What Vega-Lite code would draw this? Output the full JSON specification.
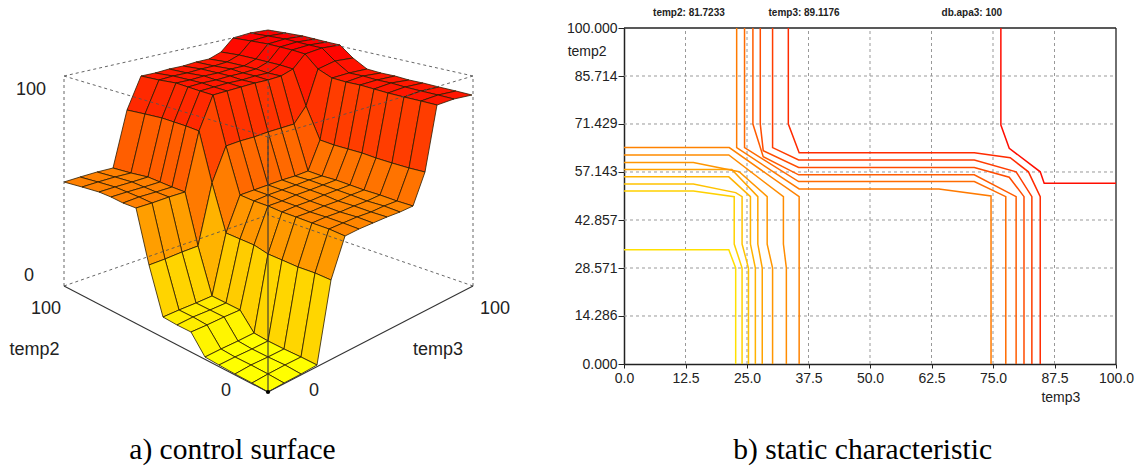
{"$schema":"https://vega.github.io/schema/vega-lite/v6.json","width":1140,"height":466,"autosize":{"type":"fit","contains":"padding"},"padding":0,"background":"white","config":{"view":{"stroke":null}},
"datasets":{"cells":[
{"c":1,"z":100,"x":[268,286,268,250],"y":[36,33,30,33]},{"c":2,"z":100,"x":[251,268,250,233],"y":[41,36,33,38]},{"c":3,"z":96,"x":[239,251,233,221],"y":[55,41,38,52]},{"c":4,"z":92,"x":[227,239,221,209],"y":[62,55,52,59]},{"c":5,"z":91,"x":[214,227,209,196],"y":[66,62,59,62]},{"c":6,"z":91,"x":[201,214,196,183],"y":[69,66,62,66]},{"c":7,"z":91,"x":[187,201,183,169],"y":[73,69,66,69]},{"c":8,"z":91,"x":[173,187,169,155],"y":[76,73,69,73]},{"c":9,"z":91,"x":[159,173,155,141],"y":[80,76,73,76]},{"c":10,"z":84,"x":[145,159,141,127],"y":[114,80,76,110]},{"c":11,"z":63,"x":[131,145,127,113],"y":[173,114,110,168]},{"c":12,"z":50,"x":[115,131,113,97],"y":[177,173,168,172]},{"c":13,"z":50,"x":[98,115,97,80],"y":[182,177,172,177]},{"c":14,"z":50,"x":[82,98,80,64],"y":[187,182,177,182]},
{"c":15,"z":100,"x":[285,303,286,268],"y":[39,36,33,36]},{"c":16,"z":100,"x":[268,285,268,251],"y":[44,39,36,41]},{"c":17,"z":96,"x":[256,268,251,239],"y":[59,44,41,55]},{"c":18,"z":92,"x":[244,256,239,227],"y":[66,59,55,62]},{"c":19,"z":91,"x":[231,244,227,214],"y":[69,66,62,66]},{"c":20,"z":91,"x":[218,231,214,201],"y":[73,69,66,69]},{"c":21,"z":91,"x":[204,218,201,187],"y":[76,73,69,73]},{"c":22,"z":91,"x":[190,204,187,173],"y":[80,76,73,76]},{"c":23,"z":91,"x":[176,190,173,159],"y":[83,80,76,80]},{"c":24,"z":84,"x":[162,176,159,145],"y":[118,83,80,114]},{"c":25,"z":63,"x":[148,162,145,131],"y":[177,118,114,173]},{"c":26,"z":50,"x":[132,148,131,115],"y":[182,177,173,177]},{"c":27,"z":50,"x":[115,132,115,98],"y":[187,182,177,182]},{"c":28,"z":50,"x":[99,115,98,82],"y":[192,187,182,187]},
{"c":29,"z":100,"x":[297,315,303,285],"y":[42,39,36,39]},{"c":30,"z":100,"x":[280,297,285,268],"y":[47,42,39,44]},{"c":31,"z":96,"x":[268,280,268,256],"y":[62,47,44,59]},{"c":32,"z":92,"x":[256,268,256,244],"y":[69,62,59,66]},{"c":33,"z":91,"x":[243,256,244,231],"y":[73,69,66,69]},{"c":34,"z":91,"x":[230,243,231,218],"y":[76,73,69,73]},{"c":35,"z":91,"x":[216,230,218,204],"y":[80,76,73,76]},{"c":36,"z":91,"x":[202,216,204,190],"y":[83,80,76,80]},{"c":37,"z":91,"x":[188,202,190,176],"y":[87,83,80,83]},{"c":38,"z":84,"x":[174,188,176,162],"y":[122,87,83,118]},{"c":39,"z":63,"x":[160,174,162,148],"y":[182,122,118,177]},{"c":40,"z":50,"x":[144,160,148,132],"y":[187,182,177,182]},{"c":41,"z":50,"x":[127,144,132,115],"y":[192,187,182,187]},{"c":42,"z":50,"x":[111,127,115,99],"y":[197,192,187,192]},
{"c":43,"z":100,"x":[309,327,315,297],"y":[45,42,39,42]},{"c":44,"z":100,"x":[292,309,297,280],"y":[50,45,42,47]},{"c":45,"z":96,"x":[280,292,280,268],"y":[65,50,47,62]},{"c":46,"z":92,"x":[268,280,268,256],"y":[73,65,62,69]},{"c":47,"z":91,"x":[255,268,256,243],"y":[76,73,69,73]},{"c":48,"z":91,"x":[242,255,243,230],"y":[80,76,73,76]},{"c":49,"z":91,"x":[228,242,230,216],"y":[83,80,76,80]},{"c":50,"z":91,"x":[214,228,216,202],"y":[87,83,80,83]},{"c":51,"z":91,"x":[200,214,202,188],"y":[91,87,83,87]},{"c":52,"z":84,"x":[186,200,188,174],"y":[126,91,87,122]},{"c":53,"z":63,"x":[172,186,174,160],"y":[187,126,122,182]},{"c":54,"z":50,"x":[156,172,160,144],"y":[192,187,182,187]},{"c":55,"z":50,"x":[139,156,144,127],"y":[197,192,187,192]},{"c":56,"z":50,"x":[123,139,127,111],"y":[203,197,192,197]},
{"c":57,"z":100,"x":[322,340,327,309],"y":[48,45,42,45]},{"c":58,"z":100,"x":[305,322,309,292],"y":[54,48,45,50]},{"c":59,"z":96,"x":[293,305,292,280],"y":[69,54,50,65]},{"c":60,"z":92,"x":[281,293,280,268],"y":[76,69,65,73]},{"c":61,"z":91,"x":[268,281,268,255],"y":[80,76,73,76]},{"c":62,"z":91,"x":[255,268,255,242],"y":[83,80,76,80]},{"c":63,"z":91,"x":[241,255,242,228],"y":[87,83,80,83]},{"c":64,"z":91,"x":[227,241,228,214],"y":[91,87,83,87]},{"c":65,"z":91,"x":[213,227,214,200],"y":[95,91,87,91]},{"c":66,"z":84,"x":[199,213,200,186],"y":[131,95,91,126]},{"c":67,"z":63,"x":[185,199,186,172],"y":[192,131,126,187]},{"c":68,"z":50,"x":[169,185,172,156],"y":[197,192,187,192]},{"c":69,"z":50,"x":[152,169,156,139],"y":[203,197,192,197]},{"c":70,"z":50,"x":[136,152,139,123],"y":[208,203,197,203]},
{"c":71,"z":98,"x":[335,353,340,322],"y":[61,58,45,48]},{"c":72,"z":97,"x":[318,335,322,305],"y":[69,61,48,54]},{"c":73,"z":90,"x":[306,318,305,293],"y":[106,69,54,69]},{"c":74,"z":82,"x":[294,306,293,281],"y":[124,106,69,76]},{"c":75,"z":80,"x":[281,294,281,268],"y":[128,124,76,80]},{"c":76,"z":80,"x":[268,281,268,255],"y":[132,128,80,83]},{"c":77,"z":80,"x":[254,268,255,241],"y":[137,132,83,87]},{"c":78,"z":80,"x":[240,254,241,227],"y":[141,137,87,91]},{"c":79,"z":80,"x":[226,240,227,213],"y":[146,141,91,95]},{"c":80,"z":73,"x":[212,226,213,199],"y":[183,146,95,131]},{"c":81,"z":52,"x":[198,212,199,185],"y":[246,183,131,192]},{"c":82,"z":38,"x":[182,198,185,169],"y":[252,246,192,197]},{"c":83,"z":38,"x":[165,182,169,152],"y":[259,252,197,203]},{"c":84,"z":38,"x":[149,165,152,136],"y":[265,259,203,208]},
{"c":85,"z":93,"x":[349,367,353,335],"y":[73,69,58,61]},{"c":86,"z":92,"x":[332,349,335,318],"y":[78,73,61,69]},{"c":87,"z":80,"x":[320,332,318,306],"y":[140,78,69,106]},{"c":88,"z":64,"x":[308,320,306,294],"y":[171,140,106,124]},{"c":89,"z":59,"x":[295,308,294,281],"y":[176,171,124,128]},{"c":90,"z":59,"x":[282,295,281,268],"y":[180,176,128,132]},{"c":91,"z":59,"x":[268,282,268,254],"y":[185,180,132,137]},{"c":92,"z":59,"x":[254,268,254,240],"y":[190,185,137,141]},{"c":93,"z":59,"x":[240,254,240,226],"y":[195,190,141,146]},{"c":94,"z":51,"x":[226,240,226,212],"y":[233,195,146,183]},{"c":95,"z":30,"x":[212,226,212,198],"y":[296,233,183,246]},{"c":96,"z":17,"x":[196,212,198,182],"y":[303,296,246,252]},{"c":97,"z":17,"x":[179,196,182,165],"y":[310,303,252,259]},{"c":98,"z":17,"x":[163,179,165,149],"y":[317,310,259,265]},
{"c":99,"z":91,"x":[363,381,367,349],"y":[76,73,69,73]},{"c":100,"z":91,"x":[346,363,349,332],"y":[82,76,73,78]},{"c":101,"z":76,"x":[334,346,332,320],"y":[145,82,78,140]},{"c":102,"z":55,"x":[322,334,320,308],"y":[176,145,140,171]},{"c":103,"z":48,"x":[309,322,308,295],"y":[180,176,171,176]},{"c":104,"z":48,"x":[296,309,295,282],"y":[185,180,176,180]},{"c":105,"z":48,"x":[282,296,282,268],"y":[190,185,180,185]},{"c":106,"z":48,"x":[268,282,268,254],"y":[195,190,185,190]},{"c":107,"z":48,"x":[254,268,254,240],"y":[201,195,190,195]},{"c":108,"z":41,"x":[240,254,240,226],"y":[239,201,195,233]},{"c":109,"z":20,"x":[226,240,226,212],"y":[303,239,233,296]},{"c":110,"z":7,"x":[210,226,212,196],"y":[310,303,296,303]},{"c":111,"z":7,"x":[193,210,196,179],"y":[317,310,303,310]},{"c":112,"z":7,"x":[177,193,179,163],"y":[325,317,310,317]},
{"c":113,"z":91,"x":[377,395,381,363],"y":[80,76,73,76]},{"c":114,"z":91,"x":[360,377,363,346],"y":[85,80,76,82]},{"c":115,"z":76,"x":[348,360,346,334],"y":[149,85,82,145]},{"c":116,"z":55,"x":[336,348,334,322],"y":[180,149,145,176]},{"c":117,"z":48,"x":[323,336,322,309],"y":[185,180,176,180]},{"c":118,"z":48,"x":[310,323,309,296],"y":[190,185,180,185]},{"c":119,"z":48,"x":[296,310,296,282],"y":[195,190,185,190]},{"c":120,"z":48,"x":[282,296,282,268],"y":[201,195,190,195]},{"c":121,"z":48,"x":[268,282,268,254],"y":[206,201,195,201]},{"c":122,"z":41,"x":[254,268,254,240],"y":[245,206,201,239]},{"c":123,"z":20,"x":[240,254,240,226],"y":[310,245,239,303]},{"c":124,"z":7,"x":[224,240,226,210],"y":[317,310,303,310]},{"c":125,"z":7,"x":[207,224,210,193],"y":[325,317,310,317]},{"c":126,"z":7,"x":[191,207,193,177],"y":[332,325,317,325]},
{"c":127,"z":91,"x":[391,409,395,377],"y":[83,80,76,80]},{"c":128,"z":91,"x":[374,391,377,360],"y":[89,83,80,85]},{"c":129,"z":76,"x":[362,374,360,348],"y":[153,89,85,149]},{"c":130,"z":55,"x":[350,362,348,336],"y":[185,153,149,180]},{"c":131,"z":48,"x":[337,350,336,323],"y":[190,185,180,185]},{"c":132,"z":48,"x":[324,337,323,310],"y":[195,190,185,190]},{"c":133,"z":48,"x":[310,324,310,296],"y":[201,195,190,195]},{"c":134,"z":48,"x":[296,310,296,282],"y":[206,201,195,201]},{"c":135,"z":48,"x":[282,296,282,268],"y":[212,206,201,206]},{"c":136,"z":40,"x":[268,282,268,254],"y":[254,212,206,245]},{"c":137,"z":18,"x":[254,268,254,240],"y":[333,254,245,310]},{"c":138,"z":4,"x":[238,254,240,224],"y":[341,333,310,317]},{"c":139,"z":4,"x":[221,238,224,207],"y":[349,341,317,325]},{"c":140,"z":4,"x":[205,221,207,191],"y":[357,349,325,332]},
{"c":141,"z":91,"x":[405,423,409,391],"y":[87,83,80,83]},{"c":142,"z":91,"x":[388,405,391,374],"y":[93,87,83,89]},{"c":143,"z":76,"x":[376,388,374,362],"y":[158,93,89,153]},{"c":144,"z":55,"x":[364,376,362,350],"y":[190,158,153,185]},{"c":145,"z":48,"x":[351,364,350,337],"y":[195,190,185,190]},{"c":146,"z":48,"x":[338,351,337,324],"y":[201,195,190,195]},{"c":147,"z":48,"x":[324,338,324,310],"y":[206,201,195,201]},{"c":148,"z":48,"x":[310,324,310,296],"y":[212,206,201,206]},{"c":149,"z":48,"x":[296,310,296,282],"y":[217,212,206,212]},{"c":150,"z":40,"x":[282,296,282,268],"y":[260,217,212,254]},{"c":151,"z":16,"x":[268,282,268,254],"y":[341,260,254,333]},{"c":152,"z":0,"x":[252,268,254,238],"y":[349,341,333,341]},{"c":153,"z":0,"x":[235,252,238,221],"y":[357,349,341,349]},{"c":154,"z":0,"x":[219,235,221,205],"y":[365,357,349,357]},
{"c":155,"z":91,"x":[421,439,423,405],"y":[91,87,83,87]},{"c":156,"z":91,"x":[404,421,405,388],"y":[97,91,87,93]},{"c":157,"z":76,"x":[392,404,388,376],"y":[163,97,93,158]},{"c":158,"z":55,"x":[380,392,376,364],"y":[195,163,158,190]},{"c":159,"z":48,"x":[367,380,364,351],"y":[201,195,190,195]},{"c":160,"z":48,"x":[354,367,351,338],"y":[206,201,195,201]},{"c":161,"z":48,"x":[340,354,338,324],"y":[212,206,201,206]},{"c":162,"z":48,"x":[326,340,324,310],"y":[217,212,206,212]},{"c":163,"z":48,"x":[312,326,310,296],"y":[223,217,212,217]},{"c":164,"z":40,"x":[298,312,296,282],"y":[267,223,217,260]},{"c":165,"z":16,"x":[284,298,282,268],"y":[349,267,260,341]},{"c":166,"z":0,"x":[268,284,268,252],"y":[357,349,341,349]},{"c":167,"z":0,"x":[251,268,252,235],"y":[365,357,349,357]},{"c":168,"z":0,"x":[235,251,235,219],"y":[374,365,357,365]},
{"c":169,"z":91,"x":[438,456,439,421],"y":[95,91,87,91]},{"c":170,"z":91,"x":[421,438,421,404],"y":[101,95,91,97]},{"c":171,"z":76,"x":[409,421,404,392],"y":[168,101,97,163]},{"c":172,"z":55,"x":[397,409,392,380],"y":[201,168,163,195]},{"c":173,"z":48,"x":[384,397,380,367],"y":[206,201,195,201]},{"c":174,"z":48,"x":[371,384,367,354],"y":[212,206,201,206]},{"c":175,"z":48,"x":[357,371,354,340],"y":[217,212,206,212]},{"c":176,"z":48,"x":[343,357,340,326],"y":[223,217,212,217]},{"c":177,"z":48,"x":[329,343,326,312],"y":[229,223,217,223]},{"c":178,"z":40,"x":[315,329,312,298],"y":[273,229,223,267]},{"c":179,"z":16,"x":[301,315,298,284],"y":[357,273,267,349]},{"c":180,"z":0,"x":[285,301,284,268],"y":[365,357,349,357]},{"c":181,"z":0,"x":[268,285,268,251],"y":[374,365,357,365]},{"c":182,"z":0,"x":[252,268,251,235],"y":[383,374,365,374]},
{"c":183,"z":91,"x":[454,472,456,438],"y":[99,95,91,95]},{"c":184,"z":91,"x":[437,454,438,421],"y":[105,99,95,101]},{"c":185,"z":76,"x":[425,437,421,409],"y":[172,105,101,168]},{"c":186,"z":55,"x":[413,425,409,397],"y":[206,172,168,201]},{"c":187,"z":48,"x":[400,413,397,384],"y":[212,206,201,206]},{"c":188,"z":48,"x":[387,400,384,371],"y":[217,212,206,212]},{"c":189,"z":48,"x":[373,387,371,357],"y":[223,217,212,217]},{"c":190,"z":48,"x":[359,373,357,343],"y":[229,223,217,223]},{"c":191,"z":48,"x":[345,359,343,329],"y":[236,229,223,229]},{"c":192,"z":40,"x":[331,345,329,315],"y":[280,236,229,273]},{"c":193,"z":16,"x":[317,331,315,301],"y":[365,280,273,357]},{"c":194,"z":0,"x":[301,317,301,285],"y":[374,365,357,365]},{"c":195,"z":0,"x":[284,301,285,268],"y":[383,374,365,374]},{"c":196,"z":0,"x":[268,284,268,252],"y":[392,383,374,383]}
],
"lines":[
{"k":"L1","z":12,"x":[0,21.3,22.7,22.7],"y":[34,34,28.57,0]},
{"k":"L2","z":18,"x":[0,14.1,22.4,22.4,24,24],"y":[51.5,51.5,49.8,35.7,28.57,0]},
{"k":"L3","z":24,"x":[0,14.1,22.7,24,24,25.3,25.3],"y":[53.6,53.6,51,49.8,35.7,28.57,0]},
{"k":"L4","z":30,"x":[0,21.3,25.7,25.7,26.7,26.7],"y":[55.7,55.7,49.8,35.7,28.57,0]},
{"k":"L5","z":36,"x":[0,21.9,27.2,27.2,28.1,28.1],"y":[57.9,57.9,49.8,35.7,28.57,0]},
{"k":"L6","z":41,"x":[0,14.1,23.4,29.1,29.1,30.2,30.2],"y":[60,60,57.2,49.8,35.7,28.57,0]},
{"k":"L7","z":45,"x":[0,21.3,32.4,32.4,33,33],"y":[62.2,62.2,49.8,35.7,28.57,0]},
{"k":"L8","z":49,"x":[0,21.4,35.6,35.6],"y":[64.4,64.4,49.8,0]},
{"k":"U1","z":52,"x":[22.9,22.9,35.6,64,74.6,74.6],"y":[100,64.4,52.1,52.1,50,0]},
{"k":"U2","z":58,"x":[24.5,24.5,35.5,71.2,77.6,77.6],"y":[100,64.4,54.3,54.3,49.8,0]},
{"k":"U3","z":64,"x":[26.2,26.2,28.3,35.5,71.2,79.7,79.7],"y":[100,71.4,61.7,56.3,56.3,49.8,0]},
{"k":"U4","z":70,"x":[27.7,27.7,28.3,35.5,71.2,78.3,81.3,81.3],"y":[100,71.4,63.5,58.5,58.5,55.6,49.8,0]},
{"k":"U5","z":76,"x":[30.2,30.2,35.5,71.2,79.7,82.9,82.9],"y":[100,64.4,60.7,60.7,57.2,49.8,0]},
{"k":"U6","z":83,"x":[33.4,33.4,35.6,71.2,78.5,82.2,84.6,84.6],"y":[100,71.4,62.9,62.9,61.4,57.2,49.8,0]},
{"k":"T","z":95,"x":[76.6,76.6,78.3,84.6,85.4,100],"y":[100,71.1,64.2,57.2,53.8,53.8]}
]},
"resolve":{"scale":{"x":"independent","y":"independent"}},
"layer":[
{"layer":[
{"data":{"name":"cells"},"transform":[{"flatten":["x","y"]}],
"mark":{"type":"line","interpolate":"linear-closed","stroke":"#2a1a00","strokeWidth":0.8,"strokeJoin":"round"},
"encoding":{"x":{"field":"x","type":"quantitative","scale":{"domain":[0,1140],"range":[0,1140],"zero":false,"nice":false},"axis":null},
"y":{"field":"y","type":"quantitative","scale":{"domain":[0,466],"range":[0,466],"zero":false,"nice":false},"axis":null},
"detail":{"field":"c"},"order":{"value":null},
"fill":{"field":"z","type":"quantitative","scale":{"domain":[0,100],"range":["#ffff00","#ff0000"],"interpolate":"rgb"},"legend":null}}},
{"data":{"values":[{"a":64,"b":286,"a2":64,"b2":76},{"a":473,"b":286,"a2":473,"b2":76},{"a":64,"b":76,"a2":268,"b2":30},{"a":473,"b":76,"a2":268,"b2":30},{"a":64,"b":76,"a2":268,"b2":137},{"a":473,"b":76,"a2":268,"b2":137},{"a":64,"b":286,"a2":268,"b2":215},{"a":473,"b":286,"a2":268,"b2":215},{"a":268,"b":215,"a2":268,"b2":30}]},
"mark":{"type":"rule","stroke":"#555","strokeWidth":0.9,"strokeDash":[3,3]},
"encoding":{"x":{"field":"a","type":"quantitative","axis":null},"x2":{"field":"a2"},"y":{"field":"b","type":"quantitative","axis":null},"y2":{"field":"b2"}}},
{"data":{"values":[{"a":268,"b":392,"a2":64,"b2":286},{"a":268,"b":392,"a2":473,"b2":286},{"a":268,"b":392,"a2":268,"b2":137}]},
"mark":{"type":"rule","stroke":"#333","strokeWidth":1.1},
"encoding":{"x":{"field":"a","type":"quantitative","axis":null},"x2":{"field":"a2"},"y":{"field":"b","type":"quantitative","axis":null},"y2":{"field":"b2"}}},
{"data":{"values":[{"a":268,"b":392}]},"mark":{"type":"point","filled":true,"color":"#000","size":18,"opacity":1},
"encoding":{"x":{"field":"a","type":"quantitative","axis":null},"y":{"field":"b","type":"quantitative","axis":null}}},
{"data":{"values":[{"a":31,"b":90,"t":"100"},{"a":29,"b":276,"t":"0"},{"a":46,"b":309,"t":"100"},{"a":34.5,"b":350,"t":"temp2"},{"a":226,"b":391,"t":"0"},{"a":314,"b":391,"t":"0"},{"a":495,"b":309,"t":"100"},{"a":438,"b":350,"t":"temp3"}]},
"mark":{"type":"text","font":"Liberation Sans","fontSize":18,"color":"#222","baseline":"middle","align":"center"},
"encoding":{"x":{"field":"a","type":"quantitative","axis":null},"y":{"field":"b","type":"quantitative","axis":null},"text":{"field":"t"}}},
{"data":{"values":[{"a":232.5,"b":450,"t":"a) control surface"}]},
"mark":{"type":"text","font":"Liberation Serif","fontSize":29.5,"color":"#000","baseline":"middle","align":"center"},
"encoding":{"x":{"field":"a","type":"quantitative","axis":null},"y":{"field":"b","type":"quantitative","axis":null},"text":{"field":"t"}}}
]},
{"layer":[
{"data":{"values":[{"a":12.5,"a2":12.5,"b":0,"b2":100},{"a":25,"a2":25,"b":0,"b2":100},{"a":37.5,"a2":37.5,"b":0,"b2":100},{"a":50,"a2":50,"b":0,"b2":100},{"a":62.5,"a2":62.5,"b":0,"b2":100},{"a":75,"a2":75,"b":0,"b2":100},{"a":87.5,"a2":87.5,"b":0,"b2":100},{"a":0,"a2":100,"b":14.286,"b2":14.286},{"a":0,"a2":100,"b":28.571,"b2":28.571},{"a":0,"a2":100,"b":42.857,"b2":42.857},{"a":0,"a2":100,"b":57.143,"b2":57.143},{"a":0,"a2":100,"b":71.429,"b2":71.429},{"a":0,"a2":100,"b":85.714,"b2":85.714}]},
"mark":{"type":"rule","stroke":"#999","strokeWidth":1,"strokeDash":[3,3]},
"encoding":{"x":{"field":"a","type":"quantitative","scale":{"domain":[0,100],"range":[624,1116],"zero":false,"nice":false},
"axis":{"values":[0,12.5,25,37.5,50,62.5,75,87.5,100],"format":".1f","orient":"bottom","offset":-102,"grid":false,"title":null,"domainColor":"#222","domainWidth":1.5,"tickColor":"#222","tickSize":4,"labelFont":"Liberation Sans","labelFontSize":14,"labelColor":"#222","labelPadding":3,"labelOverlap":false,"labelFlush":false}},
"x2":{"field":"a2"},
"y":{"field":"b","type":"quantitative","scale":{"domain":[0,100],"range":[364,28],"zero":false,"nice":false},
"axis":{"values":[0,14.286,28.571,42.857,57.143,71.429,85.714,100],"format":".3f","orient":"left","offset":-624,"grid":false,"title":null,"domainColor":"#222","domainWidth":1.5,"tickColor":"#222","tickSize":6,"labelFont":"Liberation Sans","labelFontSize":14,"labelColor":"#222","labelPadding":1,"labelOverlap":false,"labelFlush":false}},
"y2":{"field":"b2"}}},
{"data":{"values":[{"a":0,"a2":100,"b":100,"b2":100},{"a":100,"a2":100,"b":0,"b2":100}]},
"mark":{"type":"rule","stroke":"#222","strokeWidth":1.3},
"encoding":{"x":{"field":"a","type":"quantitative"},"x2":{"field":"a2"},"y":{"field":"b","type":"quantitative"},"y2":{"field":"b2"}}},
{"data":{"name":"lines"},"transform":[{"flatten":["x","y"]}],
"mark":{"type":"line","strokeWidth":1.5,"interpolate":"linear"},
"encoding":{"x":{"field":"x","type":"quantitative"},"y":{"field":"y","type":"quantitative"},"detail":{"field":"k"},"order":{"value":null},
"stroke":{"field":"z","type":"quantitative","scale":{"domain":[0,100],"range":["#ffff00","#ff0000"],"interpolate":"rgb"},"legend":null}}},
{"data":{"values":[{"a":88.8,"b":-10.1,"t":"temp3"},{"a":-7.5,"b":93,"t":"temp2"}]},
"mark":{"type":"text","font":"Liberation Sans","fontSize":14,"color":"#222","baseline":"middle","align":"center"},
"encoding":{"x":{"field":"a","type":"quantitative"},"y":{"field":"b","type":"quantitative"},"text":{"field":"t"}}},
{"data":{"values":[{"a":13.2,"b":104.5,"t":"temp2: 81.7233"},{"a":36.6,"b":104.5,"t":"temp3: 89.1176"},{"a":70.7,"b":104.5,"t":"db.apa3: 100"}]},
"mark":{"type":"text","font":"Liberation Sans","fontWeight":"bold","fontSize":10,"color":"#222","baseline":"middle","align":"center"},
"encoding":{"x":{"field":"a","type":"quantitative"},"y":{"field":"b","type":"quantitative"},"text":{"field":"t"}}},
{"data":{"values":[{"a":48.5,"b":-25.6,"t":"b) static characteristic"}]},
"mark":{"type":"text","font":"Liberation Serif","fontSize":29.5,"color":"#000","baseline":"middle","align":"center"},
"encoding":{"x":{"field":"a","type":"quantitative"},"y":{"field":"b","type":"quantitative"},"text":{"field":"t"}}}
]}
]}
